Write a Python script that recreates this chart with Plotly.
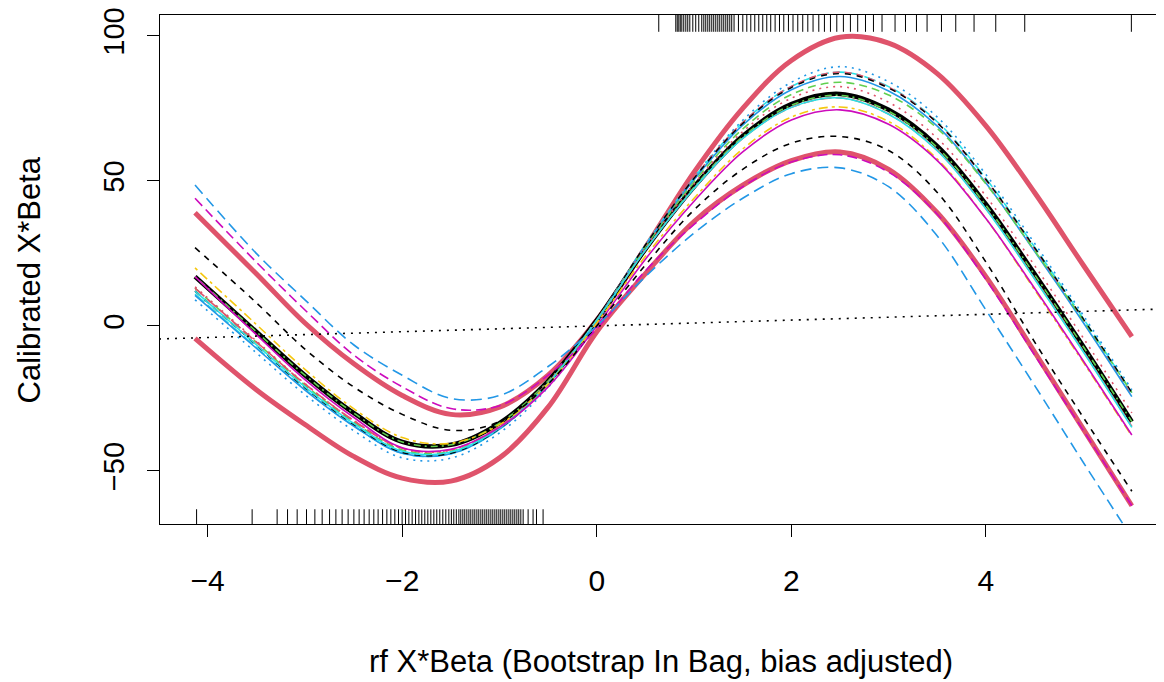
import plotly.graph_objects as go

# ---------------- data ----------------
x_grid = [-4.13, -3.5, -3.0, -2.5, -2.0, -1.5, -1.0, -0.5, 0.0, 0.5,
          1.0, 1.5, 2.0, 2.5, 3.0, 3.5, 4.0, 4.5, 5.0, 5.5]

# thick curves
band_upper = [39, 18, 1, -13, -24, -30.5, -28, -17, 2, 27, 53, 75, 91.5, 99.5, 97.5, 87, 69, 46, 21, -3.7]
band_lower = [-4.3, -22, -34, -45, -52.5, -53.5, -45.5, -28, -2, 18, 36, 48.5, 57, 60, 54, 39, 17, -9, -35.5, -62]
estimate = [17, -2, -17, -30, -40, -41, -33.5, -19, 2, 26.5, 48, 65.5, 76.5, 80, 74.5, 62, 42, 18, -7, -33]

# thin bootstrap curves
boot_blue_dot = [9, -9.3, -23.7, -36.1, -45.5, -45.6, -36.9, -21.2, 1, 27.6, 51.2, 70.9, 84, 89.4, 84.2, 72, 52.2, 28.5, 3.7, -22]
boot_cyan_long = [11, -7.4, -21.9, -34.4, -43.9, -44.1, -35.6, -20, 2, 28, 51.1, 70.1, 82.6, 87.5, 82.5, 70.4, 50.8, 27.2, 2.6, -23]
boot_red_dash = [12, -6.5, -21.1, -33.7, -43.4, -43.7, -35.3, -19.9, 2, 28, 51.1, 70.1, 82.6, 87.5, 82.3, 70, 50.3, 26.5, 1.75, -24]
boot_blue_solid = [10.5, -7.7, -22.1, -34.5, -43.9, -44.1, -35.6, -20, 2, 27.7, 50.4, 69.2, 81.4, 86, 81, 68.9, 49.3, 25.7, 1.2, -24.4]
boot_green_dash = [13, -5.65, -20.4, -33.1, -42.8, -43.25, -35, -19.75, 2, 27.3, 49.6, 67.9, 79.8, 84, 79.6, 68.1, 49, 26, 2, -23]
boot_red_dot = [13.5, -5.15, -19.9, -32.6, -42.3, -42.8, -34.7, -19.6, 2, 27, 49, 67, 78.5, 82.5, 77.1, 64.7, 44.75, 20.85, -4.1, -30]
boot_black_dash2 = [12, -6.6, -21.3, -33.95, -43.6, -43.9, -35.4, -20, 2, 27.9, 50.9, 69.8, 82.2, 87, 82, 70, 50.5, 27, 2.5, -23]
boot_green_dotdash = [17, -2, -17, -30, -40, -41, -33.5, -19, 2, 26.3, 47.8, 65.2, 76.1, 79.5, 74, 61.5, 41.6, 17.7, -7.1, -33]
boot_red_long = [13, -5.5, -20, -32.6, -42.2, -42.7, -34.6, -19.55, 2, 26.2, 47.4, 64.65, 75.35, 78.6, 73.05, 60.5, 40.45, 16.4, -8.65, -34.7]
boot_cyan_solid = [12, -6.5, -21, -33.6, -43.2, -43.5, -35.2, -19.8, 2, 26.2, 47.4, 64.65, 75.35, 78.6, 73, 60.4, 40.3, 16.2, -8.9, -35]
boot_yellow = [20, 0.5, -15, -28.5, -38.5, -40.5, -34, -20, 1, 24, 44, 61, 72, 75.5, 70.5, 57.5, 37, 12.5, -12.5, -38]
boot_magenta_solid = [17, -3, -18.5, -31.5, -42, -42.5, -35, -21, 0, 23, 43, 60, 71, 74.5, 69.5, 57, 37, 13, -12, -37.6]
boot_black_dash = [27, 8, -8, -21, -30.5, -36, -33, -20, 0, 21, 40, 54, 63, 65.3, 60.5, 46, 22, -5.5, -31.5, -57]
boot_magenta_dash = [44, 22, 5.5, -10, -21, -28.5, -27.5, -17, -1, 19, 35, 48, 56.5, 59, 53, 38.5, 16, -10, -36, -62]
boot_blue_dash = [48.6, 25, 9, -6.5, -17, -25, -24, -14, 0, 17, 32, 44, 52.5, 54.5, 48, 31, 5.5, -20.5, -47, -73]

# identity reference line end points (x = y)
identity_x = [-4.5, 5.85]

# rug values
rug_bottom = [-4.114, -3.543, -3.286, -3.179, -3.080, -2.984, -2.898, -2.823, -2.747, -2.682,
              -2.618, -2.556, -2.497, -2.443, -2.392, -2.340, -2.292, -2.248, -2.202, -2.158,
              -2.117, -2.076, -2.038, -2.001, -1.966, -1.932, -1.898, -1.863, -1.829, -1.799,
              -1.768, -1.737, -1.706, -1.675, -1.645, -1.614, -1.583, -1.552, -1.521, -1.495,
              -1.470, -1.444, -1.418, -1.398, -1.377, -1.357, -1.336, -1.315, -1.295, -1.274,
              -1.254, -1.233, -1.213, -1.192, -1.172, -1.151, -1.131, -1.110, -1.089, -1.069,
              -1.048, -1.028, -1.007, -0.987, -0.966, -0.946, -0.925, -0.904, -0.884, -0.863,
              -0.843, -0.822, -0.802, -0.781, -0.757, -0.706, -0.655, -0.620, -0.552]
rug_top = [0.637, 0.812, 0.827, 0.843, 0.858, 0.874, 0.894, 0.915, 0.935, 0.956, 0.987,
           1.017, 1.048, 1.079, 1.100, 1.120, 1.141, 1.161, 1.182, 1.202, 1.223, 1.244,
           1.264, 1.285, 1.305, 1.326, 1.346, 1.367, 1.387, 1.411, 1.456, 1.501, 1.542,
           1.583, 1.624, 1.665, 1.706, 1.747, 1.788, 1.833, 1.878, 1.922, 1.970, 2.017,
           2.066, 2.117, 2.169, 2.223, 2.282, 2.340, 2.402, 2.467, 2.535, 2.607, 2.682,
           2.762, 2.844, 2.932, 3.066, 3.173, 3.286, 3.395, 3.543, 3.690, 3.878, 4.101,
           4.399, 5.495]

x_ticks = [-4, -2, 0, 2, 4]
y_ticks = [-50, 0, 50, 100]
x_title = "rf X*Beta (Bootstrap In Bag, bias adjusted)"
y_title = "Calibrated X*Beta"

# ---------------- styles ----------------
RED = "#DF536B"; BLUE = "#2297E6"; MAG = "#CD0BBC"; CYAN = "#28E2E5"
GREEN = "#61D04F"; YEL = "#F5C710"; BLACK = "#000000"

DOT = "2px,5px"; DASH = "7px,5px"; LONG = "12px,4px"; DOTDASH = "2px,4px,7px,4px"

series = [
    (band_upper, RED, 5, "solid"),
    (band_lower, RED, 5, "solid"),
    (estimate, BLACK, 4.5, "solid"),
    (boot_blue_dot, BLUE, 1.6, DOT),
    (boot_cyan_long, CYAN, 1.6, LONG),
    (boot_red_dash, RED, 1.6, DASH),
    (boot_blue_solid, BLUE, 1.6, "solid"),
    (boot_green_dash, GREEN, 1.6, "8px,5px"),
    (boot_red_dot, RED, 1.6, DOT),
    (boot_black_dash2, BLACK, 1.4, "6px,6px"),
    (boot_green_dotdash, GREEN, 1.6, DOTDASH),
    (boot_red_long, RED, 1.6, LONG),
    (boot_cyan_solid, CYAN, 1.6, "solid"),
    (boot_yellow, YEL, 1.6, "3px,4px,9px,4px"),
    (boot_magenta_solid, MAG, 1.6, "solid"),
    (boot_black_dash, BLACK, 1.6, "6px,6px"),
    (boot_magenta_dash, MAG, 1.6, "10px,5px"),
    (boot_blue_dash, BLUE, 1.6, "11px,6px"),
]

fig = go.Figure()
for vals, col, w, dash in series:
    fig.add_trace(go.Scatter(x=x_grid, y=vals, mode="lines",
                             line=dict(color=col, width=w, dash=dash, shape="spline", smoothing=1.0),
                             hoverinfo="skip", showlegend=False, cliponaxis=True))

fig.add_trace(go.Scatter(x=identity_x, y=identity_x, mode="lines",
                         line=dict(color=BLACK, width=1.6, dash="2px,6px"),
                         hoverinfo="skip", showlegend=False))

shapes = []
for v in rug_bottom:
    shapes.append(dict(type="line", xref="x", yref="paper", x0=v, x1=v, y0=0, y1=0.029,
                       line=dict(color="black", width=1)))
for v in rug_top:
    shapes.append(dict(type="line", xref="x", yref="paper", x0=v, x1=v, y0=1, y1=0.967,
                       line=dict(color="black", width=1)))

FONT = "Liberation Sans, Arial, sans-serif"
FS = 31
TFS = 29
# page body adds an 8px offset; margins compensate so the frame lands at x 160-1162, y 15-524
fig.update_layout(
    width=1164, height=682,
    margin=dict(l=152, r=10, t=7, b=166),
    paper_bgcolor="white", plot_bgcolor="white",
    font=dict(family=FONT, size=FS, color="black"),
    shapes=shapes,
    xaxis=dict(range=[-4.49, 5.81], tickvals=x_ticks, ticks="outside", ticklen=12,
               tickwidth=1, tickcolor="black", showgrid=False, zeroline=False,
               showline=True, linecolor="black", linewidth=1, mirror=True, automargin=False,
               ticklabelstandoff=18, ticklabeloverflow="allow", tickfont=dict(size=TFS + 1)),
    yaxis=dict(range=[-68.3, 107.2], tickvals=y_ticks, ticks="outside", ticklen=12,
               tickwidth=1, tickcolor="black", showgrid=False, zeroline=False,
               showline=True, linecolor="black", linewidth=1, mirror=True, automargin=False,
               tickangle=-90, ticklabelstandoff=11, ticklabeloverflow="allow",
               tickfont=dict(size=TFS)),
    annotations=[
        dict(text=x_title, xref="paper", yref="paper", x=0.5, y=-0.271,
             showarrow=False, xanchor="center", yanchor="middle", font=dict(size=FS)),
        dict(text=y_title, xref="paper", yref="paper", x=-0.130, y=0.48,
             showarrow=False, xanchor="center", yanchor="middle", textangle=-90,
             font=dict(size=FS)),
    ],
)

fig.write_html("out.html")
